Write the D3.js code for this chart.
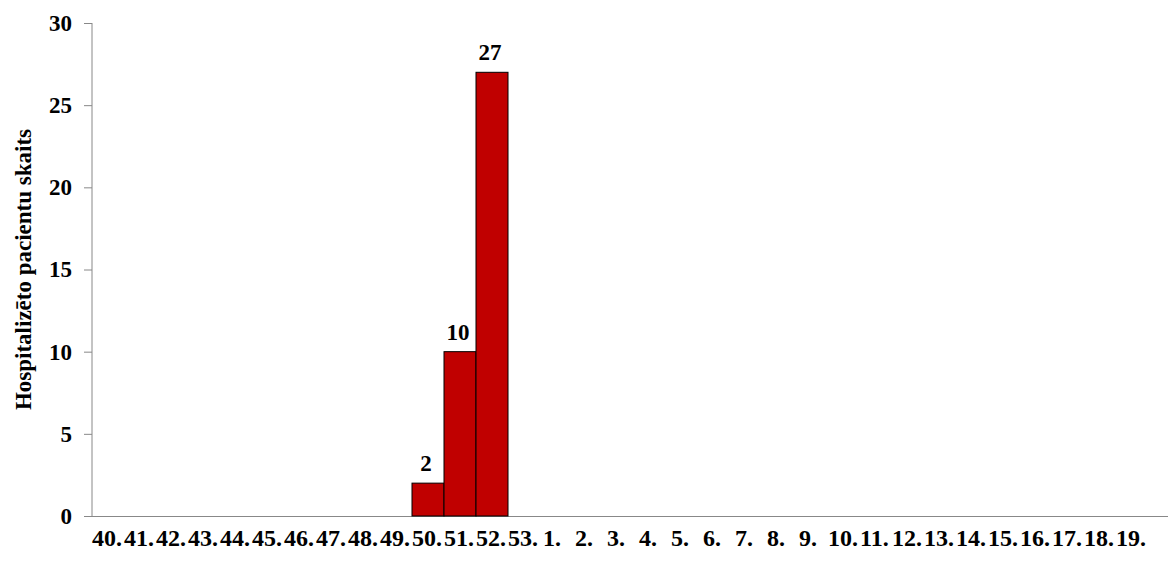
<!DOCTYPE html>
<html><head><meta charset="utf-8">
<script src="https://cdn.jsdelivr.net/npm/d3@7"></script>
<style>body{margin:0;background:#fff}svg{display:block}text{font-family:"Liberation Serif","Times New Roman",serif;font-weight:bold;fill:#000}</style>
</head><body>
<svg id="c" width="1168" height="561"></svg>
<script>
const weeks = ["40.","41.","42.","43.","44.","45.","46.","47.","48.","49.","50.","51.","52.","53.","1.","2.","3.","4.","5.","6.","7.","8.","9.","10.","11.","12.","13.","14.","15.","16.","17.","18.","19."];
const patients = [null,null,null,null,null,null,null,null,null,null,2,10,27,null,null,null,null,null,null,null,null,null,null,null,null,null,null,null,null,null,null,null,null];
const yTicks = [0,5,10,15,20,25,30];
const yTitle = "Hospitalizēto pacientu skaits";

const svg = d3.select("#c");
const x0 = 92, y0 = 516;
const x = d3.scaleBand().domain(weeks).range([x0, x0 + 32*weeks.length]).padding(0);
const y = d3.scaleLinear().domain([0,30]).range([y0, 23]);

// axes
const yAxis = d3.axisLeft(y).tickValues(yTicks).tickSize(8).tickPadding(12);
const gy = svg.append("g").attr("transform", `translate(${x0},0)`).call(yAxis);
gy.select(".domain").attr("stroke","#888").attr("d", `M0,${y(30)}V${y0}`);
gy.selectAll(".tick line").attr("stroke","#888");
gy.selectAll(".tick text").style("font-size","23px").style("font-family","Liberation Serif").style("font-weight","bold").attr("fill","#000");

svg.append("line").attr("x1", x0-8).attr("x2", 1168).attr("y1", y0+0.5).attr("y2", y0+0.5).attr("stroke","#888");

const xl = svg.append("g");
xl.selectAll("text").data(weeks).join("text")
  .attr("x", d => x(d) + (d.length === 2 ? 3 : 0))
  .attr("y", 546)
  .attr("text-anchor","start")
  .style("font-size","24px")
  .text(d => d);

// bars
const data = weeks.map((w,i)=>({w, v: patients[i]})).filter(d => d.v != null);
svg.append("g").selectAll("rect").data(data).join("rect")
  .attr("x", d => x(d.w))
  .attr("y", d => y(d.v))
  .attr("width", x.bandwidth())
  .attr("height", d => y0 - y(d.v))
  .attr("fill","#C00000").attr("stroke","#000").attr("stroke-width",1);

svg.append("g").selectAll("text").data(data).join("text")
  .attr("x", d => x(d.w) + x.bandwidth()/2 - 2)
  .attr("y", d => y(d.v) - 12)
  .attr("text-anchor","middle")
  .style("font-size","23px")
  .text(d => d.v);

svg.append("text")
  .attr("transform", `translate(31,${(y0+23)/2}) rotate(-90)`)
  .attr("text-anchor","middle")
  .style("font-size","23px")
  .text(yTitle);
</script>
</body></html>
